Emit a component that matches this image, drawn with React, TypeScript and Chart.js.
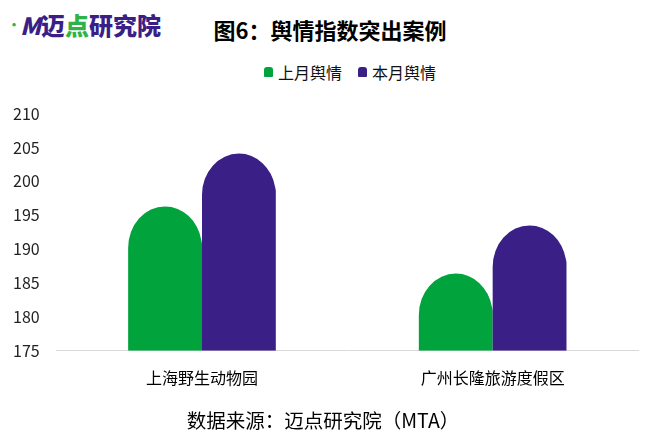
import React, { useEffect, useRef } from "react";
import { Chart, registerables } from "chart.js";

Chart.register(...registerables);

const categories = ["上海野生动物园", "广州长隆旅游度假区"];
const lastMonth = [196.3, 186.4];
const thisMonth = [204.1, 193.5];
const seriesNames = ["上月舆情", "本月舆情"];
const yTicks = [175, 180, 185, 190, 195, 200, 205, 210];

const GREEN = "#00A33C";
const PURPLE = "#3A1F87";
const FONT = "'Noto Sans CJK SC', 'Noto Sans', sans-serif";

const bulletPlugin = {
  id: "bulletBars",
  beforeDatasetDraw() {
    return false;
  },
  afterDatasetsDraw(chart: any) {
    const ctx = chart.ctx;
    const area = chart.chartArea;
    ctx.save();
    ctx.beginPath();
    ctx.rect(area.left, area.top - 20, area.right - area.left, area.bottom - area.top + 20);
    ctx.clip();
    chart.data.datasets.forEach((ds: any, i: number) => {
      const meta = chart.getDatasetMeta(i);
      meta.data.forEach((el: any) => {
        const { x, y, base, width } = el.getProps(["x", "y", "base", "width"], true);
        const b = Math.min(base, area.bottom);
        const rx = width / 2;
        const ry = width * 0.56;
        const yc = y + ry;
        ctx.fillStyle = ds.backgroundColor;
        ctx.beginPath();
        ctx.moveTo(x - rx, b);
        ctx.lineTo(x - rx, yc);
        ctx.ellipse(x, yc, rx, ry, 0, Math.PI, 2 * Math.PI - 0.18, false);
        const ey = yc - ry * Math.sin(0.18);
        ctx.lineTo(x + rx, ey + 3);
        ctx.lineTo(x + rx, b);
        ctx.closePath();
        ctx.fill();
      });
    });
    ctx.restore();
  },
};

export default function App() {
  const ref = useRef<HTMLCanvasElement>(null);
  useEffect(() => {
    if (!ref.current) return;
    const chart = new Chart(ref.current, {
      type: "bar",
      data: {
        labels: categories,
        datasets: [
          { label: seriesNames[0], data: lastMonth, backgroundColor: GREEN, base: 175 },
          { label: seriesNames[1], data: thisMonth, backgroundColor: PURPLE, base: 175 },
        ],
      },
      options: {
        animation: false,
        responsive: false,
        maintainAspectRatio: false,
        layout: { padding: { left: 10, right: 12, top: 3, bottom: 8 } },
        datasets: { bar: { categoryPercentage: 0.508, barPercentage: 1 } },
        plugins: {
          legend: { display: false },
          tooltip: { enabled: false },
          title: { display: false },
        },
        scales: {
          x: {
            grid: { display: false, drawTicks: false },
            border: { display: true, color: "#d9d9d9", width: 1 },
            ticks: { color: "#000", font: { family: FONT, size: 16 }, padding: 18 },
          },
          y: {
            min: 175,
            max: 210,
            afterBuildTicks: (axis: any) => {
              axis.ticks = yTicks.map((v) => ({ value: v }));
            },
            grid: { display: false, drawTicks: false },
            border: { display: false },
            ticks: { color: "#222", font: { family: FONT, size: 16 }, padding: 17 },
          },
        },
      },
      plugins: [bulletPlugin],
    });
    return () => chart.destroy();
  }, []);

  const legendItem = (color: string, text: string) => (
    <span style={{ display: "inline-flex", alignItems: "center", margin: "0 8px" }}>
      <span
        style={{
          display: "inline-block",
          width: 9,
          height: 10,
          background: color,
          borderRadius: "3px 3px 1px 1px",
          marginRight: 5,
        }}
      />
      <span>{text}</span>
    </span>
  );

  return (
    <div
      style={{
        position: "absolute",
        left: 0,
        top: 0,
        width: 650,
        height: 439,
        background: "#fff",
        fontFamily: FONT,
        overflow: "hidden",
      }}
    >
      <div
        style={{
          position: "absolute",
          left: 8,
          top: 9,
          fontSize: 24,
          fontWeight: 900,
          color: "#3A1F87",
          letterSpacing: 0,
          lineHeight: "32px",
        }}
      >
        <span style={{ color: "#2DB34A", fontSize: 12, verticalAlign: "top" }}>·</span>
        <span style={{ fontStyle: "italic" }}>M</span>迈<span style={{ color: "#2DB34A" }}>点</span>研究院
      </div>
      <div
        style={{
          position: "absolute",
          left: 0,
          width: 660,
          top: 13,
          textAlign: "center",
          fontSize: 22,
          fontWeight: 700,
          color: "#000",
          lineHeight: "32px",
        }}
      >
        图6：舆情指数突出案例
      </div>
      <div
        style={{
          position: "absolute",
          left: 0,
          width: 700,
          top: 58,
          textAlign: "center",
          fontSize: 16,
          color: "#111",
          lineHeight: "24px",
        }}
      >
        {legendItem(GREEN, seriesNames[0])}
        {legendItem(PURPLE, seriesNames[1])}
      </div>
      <canvas
        ref={ref}
        width={664}
        height={327}
        style={{ position: "absolute", left: -14, top: 87, width: 664, height: 327 }}
      />
      <div
        style={{
          position: "absolute",
          left: 0,
          width: 646,
          top: 405,
          textAlign: "center",
          fontSize: 19.5,
          color: "#000",
          lineHeight: "30px",
        }}
      >
        数据来源：迈点研究院（MTA）
      </div>
    </div>
  );
}
